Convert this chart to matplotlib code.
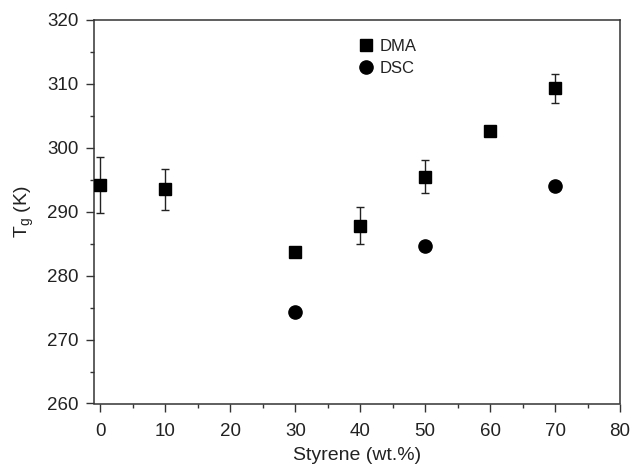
import matplotlib.pyplot as plt
from matplotlib.lines import Line2D
import numpy as np

plt.rcParams['font.family'] = ['Liberation Sans', 'DejaVu Sans']

# glass transition temperatures vs styrene content
styrene_dma = [0, 10, 30, 40, 50, 60, 70]
tg_dma = [294.2, 293.5, 283.7, 287.8, 295.5, 302.7, 309.3]
tg_dma_err = [4.4, 3.2, 0.0, 2.9, 2.6, 0.0, 2.3]

styrene_dsc = [30, 50, 70]
tg_dsc = [274.3, 284.6, 294.0]

fig = plt.figure(figsize=(6.3, 4.68), dpi=100)
ax = fig.add_axes([94 / 630, 1 - 403.5 / 468, 526 / 630, 383.5 / 468])

ax.errorbar(styrene_dma, tg_dma, yerr=tg_dma_err, fmt='s', color='black',
            markersize=8.5, ecolor='#222222', elinewidth=1.0, capsize=2.8,
            capthick=1.0, zorder=3)
ax.plot(styrene_dsc, tg_dsc, 'o', color='black', markersize=9.5, zorder=3)

ax.set_xlim(-1, 80)
ax.set_ylim(260, 320)
ax.set_xticks(np.arange(0, 81, 10))
ax.set_xticks(np.arange(5, 80, 10), minor=True)
ax.set_yticks(np.arange(260, 321, 10))
ax.set_yticks(np.arange(265, 320, 10), minor=True)

for s in ax.spines.values():
    s.set_color('#333333')
    s.set_linewidth(1.1)
ax.tick_params(which='major', direction='out', length=6, width=1.0,
               color='#333333', labelsize=13.5, labelcolor='#222222', pad=5)
ax.tick_params(axis='x', which='major', pad=8)
ax.tick_params(which='minor', direction='out', length=3, width=1.0,
               color='#333333')
ax.tick_params(top=False, right=False, which='both')

ax.set_xlabel('Styrene (wt.%)', fontsize=14, color='#222222', labelpad=5)
ax.set_ylabel(r'T$_\mathregular{g}$ (K)', fontsize=14, color='#222222',
              labelpad=8)

# legend handles without the error bar caps
handles = [
    Line2D([], [], ls='none', marker='s', color='black', markersize=8.5),
    Line2D([], [], ls='none', marker='o', color='black', markersize=9.5),
]
leg = ax.legend(handles, ['DMA', 'DSC'], loc='upper left',
                bbox_to_anchor=(0.47, 0.99), frameon=False, fontsize=12,
                handletextpad=0.2, labelspacing=0.4, handlelength=1.2)
for t in leg.get_texts():
    t.set_color('#222222')

fig.savefig('out.png', dpi=100)
